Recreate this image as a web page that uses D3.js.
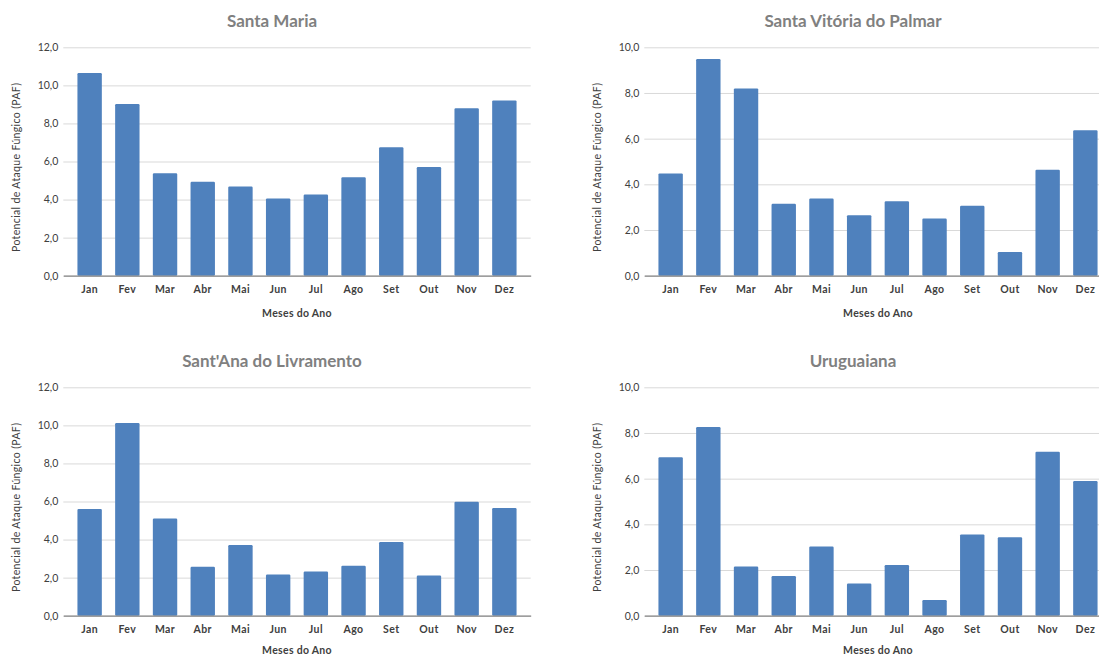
<!DOCTYPE html>
<html>
<head>
<meta charset="utf-8">
<script src="https://cdn.jsdelivr.net/npm/d3@7"></script>
<style>
  html, body { margin: 0; padding: 0; background: #ffffff; }
  svg { display: block; overflow: hidden; }
  text { font-family: Lato, "Open Sans", sans-serif; }
</style>
</head>
<body>
<svg id="chart" width="1099" height="656"></svg>
<script>
// Monthly fungal attack potential (PAF) for four stations
const months = ["Jan", "Fev", "Mar", "Abr", "Mai", "Jun", "Jul", "Ago", "Set", "Out", "Nov", "Dez"];

const santaMaria   = [10.65, 9.02, 5.38, 4.94, 4.69, 4.06, 4.27, 5.17, 6.75, 5.71, 8.80, 9.21];
const santaVitoria = [4.48, 9.49, 8.20, 3.15, 3.38, 2.65, 3.26, 2.50, 3.06, 1.04, 4.64, 6.37];
const santAna      = [5.61, 10.12, 5.11, 2.57, 3.71, 2.16, 2.32, 2.62, 3.87, 2.11, 5.99, 5.66];
const uruguaiana   = [6.94, 8.26, 2.15, 1.74, 3.03, 1.41, 2.22, 0.69, 3.56, 3.43, 7.18, 5.90];

const ticks12 = [0, 2, 4, 6, 8, 10, 12];
const ticks10 = [0, 2, 4, 6, 8, 10];

const titles = ["Santa Maria", "Santa Vitória do Palmar", "Sant'Ana do Livramento", "Uruguaiana"];
const yTitle = "Potencial de Ataque Fúngico (PAF)";
const xTitle = "Meses do Ano";

const panels = [
  { title: titles[0], values: santaMaria,   ticks: ticks12, dx: 0,   dy: 0 },
  { title: titles[1], values: santaVitoria, ticks: ticks10, dx: 581, dy: 0 },
  { title: titles[2], values: santAna,      ticks: ticks12, dx: 0,   dy: 340 },
  { title: titles[3], values: uruguaiana,   ticks: ticks10, dx: 581, dy: 340 }
];

const ptBR = d3.formatLocale({ decimal: ",", thousands: ".", grouping: [3], currency: ["R$", ""] });
const fmt = ptBR.format(".1f");

const W = 1099, H = 656;
const svg = d3.select("#chart");

// Plot area inside each panel
const plot = { left: 63.3, right: 530.7, top: 47.3, bottom: 275.7 };
const barColor = "#4f81bd";

panels.forEach(p => {
  const g = svg.append("g").attr("transform", `translate(${p.dx},${p.dy})`);

  const x = d3.scaleBand()
    .domain(months)
    .range([plot.left, plot.right])
    .paddingInner(0.353)
    .paddingOuter(0.375);

  const y = d3.scaleLinear()
    .domain([0, d3.max(p.ticks)])
    .range([plot.bottom, plot.top]);

  // Horizontal gridlines and value labels
  const yAxis = d3.axisLeft(y)
    .tickValues(p.ticks)
    .tickSize(-(plot.right - plot.left))
    .tickPadding(6)
    .tickFormat(fmt);

  const ya = g.append("g")
    .attr("transform", `translate(${plot.left},0)`)
    .call(yAxis);
  ya.select(".domain").remove();
  ya.selectAll(".tick line").attr("stroke", "#d9d9d9").attr("stroke-width", 1);
  ya.selectAll(".tick text")
    .attr("fill", "#404040")
    .attr("font-size", "10.5px")
    .attr("x", -5)
    .attr("font-family", "Lato, sans-serif");

  // Bars
  g.append("g")
    .selectAll("rect")
    .data(p.values)
    .join("rect")
    .attr("x", (d, i) => x(months[i]))
    .attr("y", d => y(d))
    .attr("width", x.bandwidth())
    .attr("height", d => y(0) - y(d))
    .attr("rx", 1.2)
    .attr("fill", barColor);

  // Category axis
  const xAxis = d3.axisBottom(x).tickSize(0).tickPadding(10);
  const xa = g.append("g")
    .attr("transform", `translate(0,${plot.bottom})`)
    .call(xAxis);
  xa.select(".domain").attr("stroke", "#868686").attr("stroke-width", 1.3);
  xa.selectAll(".tick text")
    .attr("fill", "#404040")
    .attr("font-size", "10.5px")
    .attr("font-weight", "bold")
    .attr("letter-spacing", "0.4px")
    .attr("font-family", "Lato, sans-serif");

  // Chart title
  g.append("text")
    .attr("x", 272)
    .attr("y", 27)
    .attr("text-anchor", "middle")
    .attr("fill", "#808080")
    .attr("font-size", "17px")
    .attr("font-weight", "bold")
    .text(p.title);

  // Axis titles
  g.append("text")
    .attr("transform", `translate(20,167.5) rotate(-90)`)
    .attr("text-anchor", "middle")
    .attr("fill", "#404040")
    .attr("font-size", "10.5px")
    .attr("textLength", 169)
    .attr("lengthAdjust", "spacing")
    .text(yTitle);

  g.append("text")
    .attr("x", (plot.left + plot.right) / 2)
    .attr("y", Math.min(317, H - 2 - p.dy))
    .attr("text-anchor", "middle")
    .attr("fill", "#404040")
    .attr("font-size", "10.5px")
    .attr("font-weight", "bold")
    .attr("letter-spacing", "0.3px")
    .text(xTitle);
});
</script>
</body>
</html>
